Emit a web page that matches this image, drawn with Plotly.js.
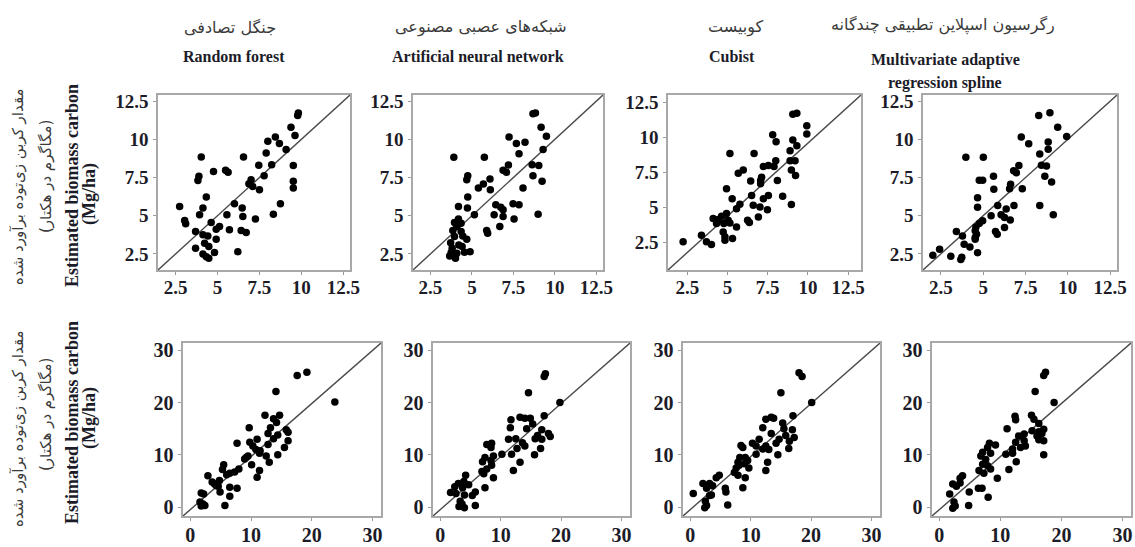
<!DOCTYPE html>
<html>
<head>
<meta charset="utf-8">
<script src="https://cdn.plot.ly/plotly-3.0.1.min.js"></script>
<style>
html,body{margin:0;padding:0;background:#fff;}
#chart{width:1135px;height:547px;}
</style>
</head>
<body>
<div id="chart"></div>
<script>
// ---------------- DATA ----------------
const modelsFa = ['جنگل تصادفی', 'شبکه‌های عصبی مصنوعی', 'کوبیست', 'رگرسیون اسپلاین تطبیقی چندگانه'];
const modelsEn = ['Random forest', 'Artificial neural network', 'Cubist', 'Multivariate adaptive', 'regression spline'];
const yTitleFa = ['مقدار کربن زی‌توده برآورد شده', '(مگاگرم در هکتار)'];
const yTitleEn = ['Estimated biomass carbon', '(Mg/ha)'];

const topTicks = [2.5, 5, 7.5, 10, 12.5];
const topTickText = ['2.5', '5', '7.5', '10', '12.5'];
const bottomTicks = [0, 10, 20, 30];
const bottomTickText = ['0', '10', '20', '30'];

// Top row (observed vs estimated)
const rfTopObs = [9.82,9.78,9.38,9.62,8.45,8.0,8.69,9.09,7.9,4.03,6.55,8.23,7.46,9.52,4.76,5.48,5.63,7.78,3.89,3.83,7.0,6.87,7.1,7.5,9.52,9.52,4.33,2.74,6.01,6.47,4.13,8.75,3.93,5.56,6.51,7.26,8.33,3.04,3.1,4.62,5.12,4.92,5.71,6.41,6.71,3.69,4.13,4.42,4.92,4.23,4.48,3.69,4.82,4.13,4.33,4.48,6.21];
const rfTopEst = [11.73,11.56,10.79,10.25,10.16,9.87,9.72,9.33,9.11,8.85,8.85,8.34,8.3,8.28,7.9,7.97,7.84,7.62,7.58,7.31,7.36,7.1,6.92,6.7,7.25,6.81,6.22,5.61,5.78,5.5,5.5,5.78,5.06,5.06,4.95,4.78,5.1,4.69,4.47,4.56,4.3,4.12,4.08,4.03,3.9,3.97,3.75,3.68,3.46,3.2,2.98,2.87,2.59,2.5,2.32,2.22,2.65];

const annTopObs = [8.68,8.83,9.17,9.49,7.24,7.68,8.2,7.84,9.29,3.91,5.75,7.2,8.63,9.03,6.88,7.08,4.75,4.69,8.68,9.23,6.09,5.69,5.39,6.11,8.08,4.75,4.19,4.73,6.44,6.74,7.48,7.84,6.88,5.15,6.34,6.88,7.54,8.99,4.19,3.95,4.35,4.09,3.85,6.68,5.89,5.95,4.35,4.45,3.95,4.69,3.72,4.21,3.81,3.75,4.09,3.66,4.01,4.55,4.89,4.41];
const annTopEst = [11.67,11.73,10.79,10.2,10.16,9.72,9.81,9.06,9.33,8.82,8.82,8.32,8.34,8.28,7.97,7.84,7.62,7.36,7.62,7.25,7.4,7.07,6.81,6.7,6.81,6.22,5.61,5.5,5.72,5.56,5.78,5.72,5.39,5.06,5.06,4.95,4.78,5.1,4.78,4.56,4.51,4.3,4.03,4.3,4.03,3.86,3.97,3.68,3.64,3.46,3.24,3.09,2.87,2.59,2.54,2.37,2.22,2.61,2.65,2.98];

const cubTopObs = [9.06,9.31,9.93,9.93,7.81,8.02,9.06,9.31,8.89,5.15,6.65,8.0,8.89,9.2,7.23,7.54,7.89,5.98,5.67,8.97,9.23,7.12,7.06,6.44,8.1,7.06,4.94,6.5,5.29,7.23,7.54,8.43,6.6,7.02,5.77,8.97,7.48,5.56,4.94,4.63,5.04,4.11,4.42,6.25,6.36,6.92,4.77,5.15,5.56,4.73,4.84,5.31,3.38,3.69,4.0,2.24,4.84,4.32];
const cubTopEst = [11.63,11.7,10.8,10.21,10.16,9.66,9.78,9.38,9.02,8.83,8.83,8.31,8.31,8.31,7.89,7.96,7.89,7.65,7.41,7.65,7.25,7.13,6.89,6.85,6.89,6.66,6.3,5.83,5.59,5.59,5.83,5.76,5.12,5.0,5.19,5.17,4.81,4.88,4.53,4.34,4.05,4.17,4.1,4.05,3.89,4.29,3.82,3.86,3.58,3.22,2.87,2.75,2.99,2.51,2.32,2.51,2.63,3.82];

const marsTopObs = [8.28,8.94,9.4,9.93,7.25,7.69,8.84,8.84,8.34,3.98,5.01,7.11,8.44,8.74,6.8,6.96,5.61,8.64,9.04,4.77,4.97,6.62,6.56,7.31,5.63,4.67,4.67,5.86,6.36,6.82,8.34,6.06,5.47,6.26,6.6,9.14,4.97,4.77,4.57,4.53,5.73,5.83,6.26,3.42,3.78,4.53,3.88,4.22,4.67,3.09,3.74,3.68,2.43,2.03,4.61,4.53];
const marsTopEst = [11.56,11.74,10.79,10.19,10.15,9.71,9.82,9.35,9.04,8.82,8.82,8.29,8.31,8.25,7.94,7.81,7.59,7.59,7.21,7.32,7.32,7.06,6.77,6.77,6.73,6.17,5.55,5.67,5.44,5.67,5.67,5.07,5.0,4.89,4.72,5.07,4.67,4.5,4.27,4.01,3.97,3.79,4.23,3.97,3.68,3.57,3.13,2.95,2.58,2.35,2.29,2.13,2.8,2.42,3.79,3.46];

// Bottom row
const rfBotObs = [17.6,19.2,23.8,14.1,12.3,13.7,14.7,14.2,13.2,9.7,12.8,14.4,15.8,16.1,13.7,7.7,9.8,10.3,11.0,10.8,11.4,12.8,15.5,14.4,9.5,8.95,10.1,13.0,11.4,11.0,8.0,7.3,6.5,5.5,5.3,6.0,2.9,3.6,4.3,4.8,4.9,6.5,7.7,6.5,5.7,1.8,2.2,1.6,1.8,2.4,2.1,4.0,4.6,12.5,16.1,9.2,11.5];
const rfBotEst = [25.2,25.8,20.1,22.1,17.6,16.9,17.6,16.2,15.2,15.2,14.1,13.8,14.8,12.7,13.1,12.2,12.4,11.7,13.0,11.0,10.3,12.0,11.4,10.0,9.8,9.2,8.1,8.6,7.0,5.7,7.3,6.7,6.5,8.1,7.2,6.2,6.0,4.8,4.1,5.1,2.9,3.8,3.6,2.1,0.3,2.7,2.5,1.0,0.2,0.3,0.6,4.4,4.0,9.8,14.3,9.5,10.8];

const annBotObs = [17.4,17.2,14.6,19.8,11.7,11.6,13.2,14.0,15.3,14.3,17.2,16.8,17.9,15.7,16.8,18.2,16.6,15.6,11.3,12.5,13.6,12.7,11.8,13.2,12.1,10.2,7.7,8.5,8.4,7.4,8.8,7.0,8.5,7.7,6.9,8.8,7.4,4.2,3.9,3.0,4.7,2.4,1.7,2.6,4.0,5.8,5.3,3.3,3.6,4.0,3.1,5.8,7.2,8.4,14.9,16.1,14.0,3.7];
const annBotEst = [25.5,25.0,21.9,20.0,16.7,15.2,17.2,17.0,15.9,15.0,17.5,14.8,14.1,13.1,13.0,13.5,11.2,10.0,13.0,13.1,12.3,11.2,10.1,8.6,7.0,10.1,12.0,12.2,11.4,9.5,9.8,8.7,8.0,7.3,6.8,5.6,3.7,6.1,4.9,4.5,4.3,3.9,2.8,2.6,2.3,2.9,2.2,1.1,0.6,-0.1,0.1,0.3,6.4,8.9,17.0,13.7,11.7,3.7];

const cubBotObs = [18.0,18.5,15.0,20.1,12.5,13.4,13.8,12.0,15.3,15.5,17.0,16.9,15.8,16.4,17.2,13.4,14.7,14.2,11.4,10.3,10.9,12.5,13.0,16.3,14.5,10.9,12.8,12.5,8.4,8.7,8.2,9.1,7.9,9.0,9.7,8.1,7.3,7.9,9.1,8.7,4.8,4.3,2.1,3.2,3.7,2.7,3.5,2.5,2.7,2.4,0.5,5.8,5.9,6.2,9.5,12.0,7.6,3.2];
const cubBotEst = [25.7,25.0,21.9,20.0,16.8,17.2,17.0,15.2,16.1,15.0,17.5,14.8,13.7,12.6,13.3,14.1,13.0,12.2,13.0,12.2,11.7,11.7,11.0,11.2,10.0,10.1,8.6,7.0,11.8,11.4,9.5,9.5,8.6,8.3,7.5,8.0,6.6,6.1,5.6,3.7,6.1,5.6,4.5,4.5,4.1,3.6,2.3,1.1,0.3,-0.1,2.6,3.6,2.9,0.4,8.9,11.1,7.5,2.2];

const marsBotObs = [17.4,17.1,15.7,18.8,12.4,12.5,11.1,15.1,15.5,16.3,17.1,16.8,16.0,16.3,17.1,15.2,13.0,13.9,14.1,12.5,13.3,12.0,10.9,17.1,12.6,11.4,9.5,8.2,9.2,7.9,6.8,7.6,7.1,7.9,6.5,7.3,6.4,7.0,8.0,3.8,3.4,2.2,2.8,1.7,3.4,2.4,2.6,2.2,4.9,4.8,7.1,8.4,13.9,12.0,16.3,8.4];
const marsBotEst = [25.8,25.2,22.1,20.0,17.4,16.7,15.0,17.6,16.8,16.0,14.9,14.1,13.6,12.9,12.7,14.6,13.6,12.7,11.7,12.4,11.4,11.1,10.1,10.0,8.7,7.2,5.5,12.2,11.9,11.4,9.8,9.1,8.2,7.9,7.0,6.5,3.6,3.6,1.9,6.0,5.5,4.4,4.0,2.5,4.6,1.0,0.2,-0.2,2.9,0.3,10.5,10.3,14.0,10.3,14.4,7.3];

// ---------------- LAYOUT HELPERS ----------------
const W = 1135, H = 547;
const px = v => v / W;
const py = v => 1 - v / H;

const topRange = [1.45, 12.9];
const cubTopX = [1.3, 13.3];
const cubTopY = [0.5, 13.0];
const botX = [-1.2, 31.4];
const botY = [-1.7, 31.4];

const topDom = [py(270), py(95)];
const botDom = [py(516), py(343)];

const SERIF = '"Liberation Serif", "Times New Roman", serif';

const panels = [
  {obs: rfTopObs,   est: rfTopEst,   xr: topRange, yr: topRange, tv: topTicks, tt: topTickText, xd: [px(158), px(350)], yd: topDom, fs: 19},
  {obs: annTopObs,  est: annTopEst,  xr: topRange, yr: topRange, tv: topTicks, tt: topTickText, xd: [px(413), px(603)], yd: topDom, fs: 19},
  {obs: cubTopObs,  est: cubTopEst,  xr: cubTopX,  yr: cubTopY,  tv: topTicks, tt: topTickText, xd: [px(668), px(861)], yd: topDom, fs: 19},
  {obs: marsTopObs, est: marsTopEst, xr: topRange, yr: topRange, tv: topTicks, tt: topTickText, xd: [px(923), px(1117)], yd: topDom, fs: 19},
  {obs: rfBotObs,   est: rfBotEst,   xr: botX, yr: botY, tv: bottomTicks, tt: bottomTickText, xd: [px(183), px(381)], yd: botDom, fs: 20},
  {obs: annBotObs,  est: annBotEst,  xr: botX, yr: botY, tv: bottomTicks, tt: bottomTickText, xd: [px(433), px(630)], yd: botDom, fs: 20},
  {obs: cubBotObs,  est: cubBotEst,  xr: botX, yr: botY, tv: bottomTicks, tt: bottomTickText, xd: [px(683), px(880)], yd: botDom, fs: 20},
  {obs: marsBotObs, est: marsBotEst, xr: botX, yr: botY, tv: bottomTicks, tt: bottomTickText, xd: [px(932), px(1131)], yd: botDom, fs: 20}
];

const traces = [];
const layout = {
  width: W, height: H,
  margin: {l: 0, r: 0, t: 0, b: 0},
  paper_bgcolor: '#ffffff',
  plot_bgcolor: '#ffffff',
  showlegend: false,
  annotations: [],
  font: {family: SERIF, color: '#1c1c28'}
};

panels.forEach((p, i) => {
  const n = i + 1;
  const xa = n === 1 ? 'x' : 'x' + n;
  const ya = n === 1 ? 'y' : 'y' + n;
  // 1:1 reference line across the panel
  traces.push({
    type: 'scatter', mode: 'lines',
    x: [p.xr[0], p.xr[1]], y: [p.yr[0], p.yr[1]],
    xaxis: xa, yaxis: ya,
    line: {color: '#4a4a4a', width: 1.4},
    hoverinfo: 'skip'
  });
  traces.push({
    type: 'scatter', mode: 'markers',
    x: p.obs, y: p.est,
    xaxis: xa, yaxis: ya,
    marker: {color: '#000000', size: 7.5},
    cliponaxis: false
  });
  const mk = () => ({
    showgrid: false, zeroline: false,
    showline: true, mirror: true,
    linecolor: '#a8a8a8', linewidth: 1.6,
    ticks: 'outside', ticklen: 3, tickwidth: 1, tickcolor: '#9a9a9a',
    tickmode: 'array', tickvals: p.tv, ticktext: p.tt,
    tickfont: {family: SERIF, size: p.fs, color: '#1c1c28', weight: 700},
    fixedrange: true
  });
  layout['xaxis' + (n === 1 ? '' : n)] = Object.assign(mk(), {
    domain: p.xd, range: p.xr, anchor: ya, ticklabelstandoff: -3
  });
  layout['yaxis' + (n === 1 ? '' : n)] = Object.assign(mk(), {
    domain: p.yd, range: p.yr, anchor: xa, ticklabelstandoff: 1
  });
});

function ann(text, x, y, opts) {
  layout.annotations.push(Object.assign({
    text: text, xref: 'paper', yref: 'paper',
    x: px(x), y: py(y), xanchor: 'center', yanchor: 'middle',
    showarrow: false
  }, opts));
}

const faFont = {family: 'DejaVu Sans', size: 16, color: '#3a3a3a'};
const enFont = {family: SERIF, size: 16, color: '#1c1c28', weight: 700};

// Column titles
ann(modelsFa[0], 230, 27, {font: faFont});
ann(modelsFa[1], 481, 27, {font: faFont});
ann(modelsFa[2], 736, 27, {font: faFont});
ann(modelsFa[3], 943, 25, {font: faFont});
ann(modelsEn[0], 234, 57, {font: enFont});
ann(modelsEn[1], 478, 57, {font: enFont});
ann(modelsEn[2], 732, 57, {font: enFont});
ann(modelsEn[3], 945, 60, {font: enFont});
ann(modelsEn[4], 945, 83, {font: enFont});

// Y-axis titles
const yFaFont = {family: 'DejaVu Sans', size: 15, color: '#3a3a3a'};
const yEnFont = {family: SERIF, size: 18, color: '#1c1c28', weight: 700};
[[187, 177, 186, 194], [429, 415, 423, 418]].forEach(r => {
  ann(yTitleFa[0], 18, r[0], {font: yFaFont, textangle: -90});
  ann(yTitleFa[1], 46, r[1], {font: yFaFont, textangle: -90});
  ann(yTitleEn[0], 72, r[2], {font: yEnFont, textangle: -90});
  ann(yTitleEn[1], 89, r[3], {font: yEnFont, textangle: -90});
});

Plotly.newPlot('chart', traces, layout, {staticPlot: true, displayModeBar: false});
</script>
</body>
</html>
